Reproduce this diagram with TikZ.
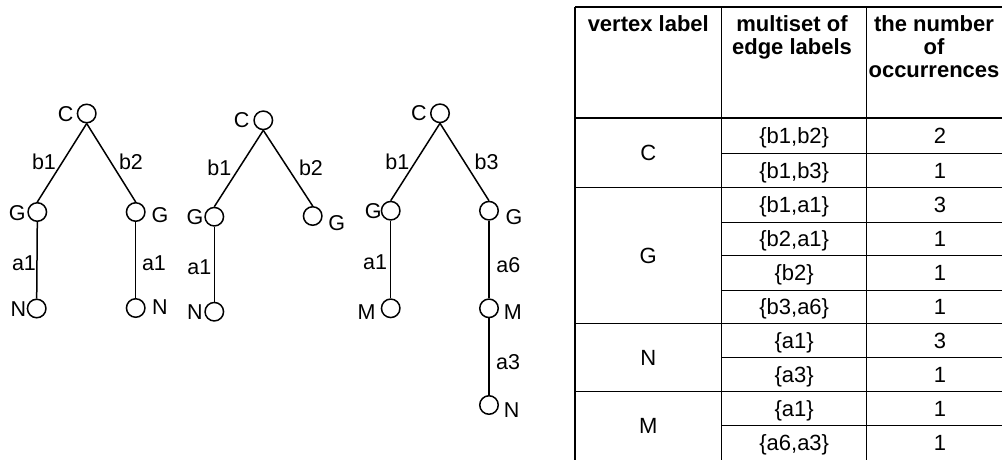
\documentclass[tikz,border=0pt]{standalone}
\usepackage{fontspec}
\setmainfont{Liberation Sans}
\begin{document}
\begin{tikzpicture}[x=1pt,y=-1pt,
  vtx/.style={circle,draw,line width=1.5pt,minimum size=18.5pt,inner sep=0pt},
  edge/.style={line width=1.5pt},
  lab/.style={font=\fontsize{21.5}{24}\selectfont,inner sep=0pt,text height=15pt,text depth=0pt},
  cell/.style={font=\fontsize{22}{24}\selectfont,inner sep=0pt,text height=15.5pt,text depth=0pt},
  head/.style={font=\fontsize{22}{23}\selectfont\bfseries,align=center,anchor=north,inner sep=0pt},
  rule/.style={line width=1.3pt},
  thickrule/.style={line width=2.3pt},
]
\useasboundingbox (0,0) rectangle (1002,459);
\clip (0,0) rectangle (1002,459);

% ---------- first tree ----------
\node[vtx] (ac) at (86.7,113.5) {};
\node[vtx] (ag1) at (37.3,212) {};
\node[vtx] (ag2) at (135.7,212) {};
\node[vtx] (an1) at (36.7,308.5) {};
\node[vtx] (an2) at (135.7,308) {};
\draw[edge] (ac.south) -- (ag1.north);
\draw[edge] (ac.south) -- (ag2.north);
\draw[edge] (ag1.south) -- (an1.north);
\draw[edge] (ag2.south) -- (an2.north);
\node[lab] (acl) at (65.7,113.5) {C};
\node[lab] (ab1) at (44,161.7) {b1};
\node[lab] (ab2) at (131,161.7) {b2};
\node[lab] (ag1l) at (17.3,212.5) {G};
\node[lab] (ag2l) at (160,215) {G};
\node[lab] (aa1) at (24,263) {a1};
\node[lab] (aa2) at (154,263) {a1};
\node[lab] (an1l) at (18.3,309) {N};
\node[lab] (an2l) at (160,307) {N};

% ---------- second tree ----------
\node[vtx] (bc) at (263.3,120.3) {};
\node[vtx] (bg1) at (214.3,216.7) {};
\node[vtx] (bg2) at (312.7,216) {};
\node[vtx] (bn1) at (214.3,311.7) {};
\draw[edge] (bc.south) -- (bg1.north);
\draw[edge] (bc.south) -- (bg2.north);
\draw[edge] (bg1.south) -- (bn1.north);
\node[lab] (bcl) at (241.7,120.3) {C};
\node[lab] (bb1) at (219.3,168) {b1};
\node[lab] (bb2) at (311,168) {b2};
\node[lab] (bg1l) at (195,216.7) {G};
\node[lab] (bg2l) at (336.7,222.7) {G};
\node[lab] (ba1) at (199.3,266.7) {a1};
\node[lab] (bn1l) at (195,311.7) {N};

% ---------- third tree ----------
\node[vtx] (cc) at (440,113.3) {};
\node[vtx] (cg1) at (390.7,210.7) {};
\node[vtx] (cg2) at (489,210.7) {};
\node[vtx] (cm1) at (390.7,308.3) {};
\node[vtx] (cm2) at (489,308.3) {};
\node[vtx] (cn) at (489,405) {};
\draw[edge] (cc.south) -- (cg1.north);
\draw[edge] (cc.south) -- (cg2.north);
\draw[edge] (cg1.south) -- (cm1.north);
\draw[edge] (cg2.south) -- (cm2.north);
\draw[edge] (cm2.south) -- (cn.north);
\node[lab] (ccl) at (419,113.3) {C};
\node[lab] (cb1) at (397.3,161.7) {b1};
\node[lab] (cb3) at (486.7,161.7) {b3};
\node[lab] (cg1l) at (373.3,210.7) {G};
\node[lab] (cg2l) at (514,217) {G};
\node[lab] (ca1) at (375,261.7) {a1};
\node[lab] (ca6) at (508.3,265) {a6};
\node[lab] (cm1l) at (366.7,311.7) {M};
\node[lab] (cm2l) at (512.7,311.7) {M};
\node[lab] (ca3) at (508,361.7) {a3};
\node[lab] (cnl) at (511.7,410) {N};

% ---------- table ----------
\def\xa{575}\def\xb{721.7}\def\xc{866.7}\def\xd{1013}
% frame and column rules
\draw[rule] (\xa,7) -- (\xd,7);
\draw[rule] (\xa,7) -- (\xa,470);
\draw[rule] (\xb,7) -- (\xb,470);
\draw[rule] (\xc,7) -- (\xc,470);
\draw[rule] (\xd,7) -- (\xd,470);
\draw[thickrule] (\xa,118.3) -- (\xd,118.3);
% rules between vertex-label groups
\foreach \yy in {187.7,323.3,391.7}
  \draw[rule] (\xa,\yy) -- (\xd,\yy);
% rules between rows within a group
\foreach \yy in {153.3,222.7,255.7,290.7,357.7,425.7}
  \draw[rule] (\xb,\yy) -- (\xd,\yy);

% header
\node[head] (h1) at (648.3,15.5) {vertex label};
\node[head] (h2) at (792,15.5) {multiset of\\edge labels};
\node[head] (h3) at (934,15.5) {the number\\of\\occurrences};

% vertex labels
\node[cell] (vC) at (648.3,153) {C};
\node[cell] (vG) at (648.3,255.5) {G};
\node[cell] (vN) at (648.3,357.5) {N};
\node[cell] (vM) at (648.3,426) {M};

% multisets and counts
\foreach \yt/\yb/\ms/\cnt [count=\i] in {
  118.3/153.3/{\{b1,b2\}}/2,
  153.3/187.7/{\{b1,b3\}}/1,
  187.7/222.7/{\{b1,a1\}}/3,
  222.7/255.7/{\{b2,a1\}}/1,
  255.7/290.7/{\{b2\}}/1,
  290.7/323.3/{\{b3,a6\}}/1,
  323.3/357.7/{\{a1\}}/3,
  357.7/391.7/{\{a3\}}/1,
  391.7/425.7/{\{a1\}}/1,
  425.7/460.5/{\{a6,a3\}}/1}{
  \node[cell] (ms\i) at (794.2,{(\yt+\yb)/2}) {\ms};
  \node[cell] (ct\i) at (940,{(\yt+\yb)/2}) {\cnt};
}
\end{tikzpicture}
\end{document}
